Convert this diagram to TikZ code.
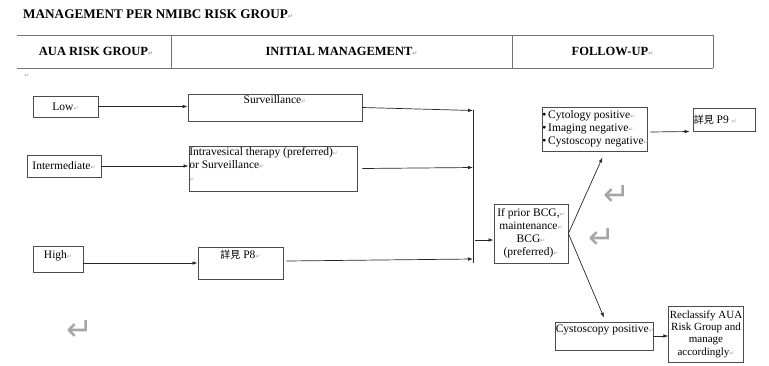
\documentclass[tikz,border=0pt]{standalone}
\usepackage{fontspec}
\setmainfont{Liberation Serif}
\newfontfamily\cjkfont{Noto Sans CJK TC}
\newfontfamily\marksfont{DejaVu Sans}
\usetikzlibrary{arrows.meta}

\definecolor{boxline}{gray}{0.30}
\definecolor{rule}{gray}{0.45}
\definecolor{wire}{gray}{0.15}
\definecolor{marks}{gray}{0.62}

% small paragraph mark after each line of text
\newcommand{\parmark}{{\marksfont\fontsize{6}{6}\selectfont\color{marks}↵}}

\tikzset{
  boxtext/.style={font=\fontsize{11.5}{13}\selectfont},
  stepbox/.style={draw=boxline, line width=0.8pt, inner sep=1pt, boxtext},
  toptext/.style={anchor=north, inner sep=0pt, boxtext},
  headtext/.style={font=\bfseries\fontsize{12.5}{14}\selectfont, inner sep=0pt},
  flow/.style={draw=wire, line width=0.7pt, -{Latex[length=5pt,width=3.6pt]}},
  bigmark/.style={font=\marksfont\fontsize{32}{32}\selectfont, text=black!35, inner sep=0pt},
}

\begin{document}
\begin{tikzpicture}[x=1pt,y=-1pt]
\useasboundingbox (0,0) rectangle (769,365);

% title
\node[anchor=west, headtext, font=\bfseries\fontsize{13.2}{14}\selectfont] (title) at (23,14) {MANAGEMENT PER NMIBC RISK GROUP\parmark};

% header row of the table
\draw[rule, line width=1pt] (17,35) -- (713,35) (17,68) -- (713,68)
  (171,35) -- (171,68) (512,35) -- (512,68) (713,35) -- (713,68);
\node[headtext] (h1) at (96,51.5) {AUA RISK GROUP\parmark};
\node[headtext] (h2) at (341.5,51.5) {INITIAL MANAGEMENT\parmark};
\node[headtext] (h3) at (612.5,51.5) {FOLLOW-UP\parmark};
\node[inner sep=0pt] (hm) at (27,76) {\parmark};

% risk groups
\node[stepbox, minimum width=65pt, minimum height=21pt] (low) at (65.5,106.5) {Low\parmark};
\node[stepbox, minimum width=74pt, minimum height=22pt] (inter) at (64,166) {Intermediate\parmark};
\node[stepbox, minimum width=50pt, minimum height=26pt,
  label={[toptext, yshift=-5pt]north:High\parmark}] (high) at (58,259) {};

% initial management
\node[stepbox, minimum width=174pt, minimum height=27pt,
  label={[toptext, yshift=-1.5pt]north:Surveillance\parmark}] (surv) at (275,107.5) {};
\node[stepbox, minimum width=168pt, minimum height=45pt,
  label={[toptext, anchor=north west, align=left, xshift=0.5pt, yshift=-1.5pt]north west:%
    Intravesical therapy (preferred)\parmark\\or Surveillance\parmark\\\parmark}] (intra) at (273,168.5) {};
\node[stepbox, minimum width=85pt, minimum height=32pt,
  label={[toptext, yshift=-3pt]north:{\cjkfont\fontsize{10}{10}\selectfont 詳見} P8\parmark}] (p8) at (240.5,263) {};

% follow-up
\node[stepbox, minimum width=74pt, minimum height=59pt, align=center] (bcg) at (531,233.5)
  {If prior BCG,\parmark\\maintenance\parmark\\BCG\parmark\\(preferred)\parmark};
\node[stepbox, minimum width=105pt, minimum height=44pt,
  label={[toptext, anchor=west, align=left, xshift=0.5pt]west:%
    •\,Cytology positive\parmark\\•\,Imaging negative\parmark\\•\,Cystoscopy negative\parmark}] (cyto) at (594.5,129) {};
\node[stepbox, minimum width=62pt, minimum height=23pt,
  label={[toptext, anchor=west, xshift=1pt]west:{\cjkfont\fontsize{10}{10}\selectfont 詳見} P9 \parmark}] (p9) at (724,119.5) {};
\node[stepbox, minimum width=98pt, minimum height=28pt,
  label={[toptext, anchor=north west, xshift=1pt, yshift=-3pt]north west:Cystoscopy positive\parmark}] (cysp) at (604,336) {};
\node[stepbox, minimum width=74pt, minimum height=56pt, align=center,
  font=\fontsize{11}{12.3}\selectfont] (recl) at (706,334)
  {Reclassify AUA\\Risk Group and\\manage\\accordingly\parmark};

% collecting line in front of the BCG box
\coordinate (bustop) at (473,110);
\coordinate (busbot) at (473,263);
\draw[wire, line width=0.7pt] (bustop) -- (busbot);

% connectors
\draw[flow] (low.east) -- (low.east -| surv.west);
\draw[flow] (inter.east) -- (inter.east -| intra.west);
\draw[flow] (high.east |- p8.west) -- (p8.west);
\draw[flow] (surv.east) -- ([yshift=-3pt]surv.east -| bustop);
\draw[flow] ([xshift=5pt]intra.east) -- ([yshift=1pt]intra.east -| bustop);
\draw[flow] ([xshift=3pt,yshift=2pt]p8.east) -- ([yshift=4pt]p8.east -| busbot);
\draw[flow] ([xshift=2pt,yshift=-6.5pt]bcg.west -| bustop) -- ([yshift=-6.5pt]bcg.west);
\draw[flow] (bcg.east) -- ([xshift=8pt,yshift=-6pt]cyto.south);
\draw[flow] (bcg.east) -- ([yshift=4pt]cysp.north);
\draw[flow] ([xshift=3pt,yshift=-3pt]cyto.east) -- ([xshift=-3pt,yshift=-2.5pt]cyto.east -| p9.west);
\draw[flow] (cysp.east) -- (cysp.east -| recl.west);

% large paragraph marks left in the page
\node[bigmark] (m1) at (80,330) {↵};
\node[bigmark] (m2) at (617,195) {↵};
\node[bigmark] (m3) at (602,238) {↵};
\end{tikzpicture}
\end{document}
